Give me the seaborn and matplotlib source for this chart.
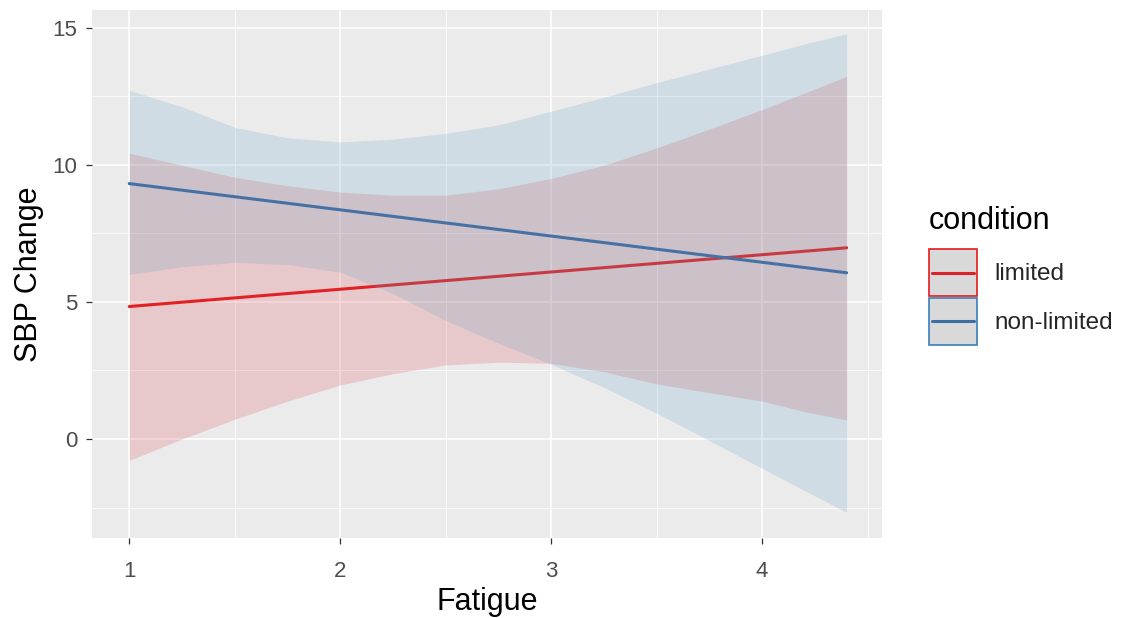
import matplotlib
matplotlib.use("Agg")
import matplotlib.pyplot as plt
import numpy as np
import pandas as pd
import seaborn as sns
from matplotlib.legend_handler import HandlerBase
from matplotlib.lines import Line2D
from matplotlib.patches import Rectangle
from matplotlib.ticker import MultipleLocator

# fitted lines (end points)
line_x = [1.0, 4.4]
limited_fit = [4.83, 6.97]
nonlimited_fit = [9.31, 6.06]

# confidence bands, read at these fatigue values
band_x = [1.0, 1.25, 1.5, 1.75, 2.0, 2.25, 2.5, 2.75, 3.0, 3.25, 3.5, 3.75, 4.0, 4.2, 4.4]
limited_lo = [-0.78, 0.00, 0.72, 1.38, 1.97, 2.38, 2.70, 2.80, 2.76, 2.45, 2.01, 1.69, 1.38, 1.00, 0.69]
limited_hi = [10.42, 9.98, 9.54, 9.23, 9.00, 8.89, 8.89, 9.12, 9.50, 9.98, 10.61, 11.30, 12.01, 12.61, 13.22]
nonlimited_lo = [6.00, 6.28, 6.44, 6.36, 6.08, 5.30, 4.32, 3.49, 2.72, 1.88, 0.94, -0.06, -1.07, -1.88, -2.67]
nonlimited_hi = [12.71, 12.11, 11.36, 10.98, 10.83, 10.93, 11.14, 11.45, 11.95, 12.46, 12.99, 13.49, 13.99, 14.40, 14.77]

conditions = ["limited", "non-limited"]
line_colors = {"limited": "#E41A1C", "non-limited": "#1A70B2"}
key_border = {"limited": "#E41A1C", "non-limited": "#377EB8"}
key_line = {"limited": "#DC2226", "non-limited": "#3A6EA5"}
fill_colors = {"limited": "#DC414B", "non-limited": "#5FA0C3"}


class KeyHandler(HandlerBase):
    """ggplot-like key: grey box with coloured border and a line through the middle."""

    def create_artists(self, legend, orig_handle, xdescent, ydescent, width, height,
                       fontsize, trans):
        border, lc = orig_handle
        rect = Rectangle((-xdescent, -ydescent), width, height, facecolor="#D9D9D9",
                         edgecolor=border, linewidth=1.2, transform=trans)
        y = -ydescent + height / 2
        line = Line2D([-xdescent + 2.5, -xdescent + width - 2.5], [y, y], color=lc,
                      linewidth=2.2, transform=trans)
        return [rect, line]


sns.set_theme(style="darkgrid", rc={
    "axes.facecolor": "#EBEBEB",
    "grid.color": "white",
    "axes.edgecolor": "#EBEBEB",
})
plt.rcParams["font.family"] = ["Liberation Sans", "DejaVu Sans"]

df = pd.DataFrame({
    "Fatigue": line_x * 2,
    "SBP Change": limited_fit + nonlimited_fit,
    "condition": ["limited"] * 2 + ["non-limited"] * 2,
})

fig = plt.figure(figsize=(11.23, 6.18), dpi=100)
ax = fig.add_axes([92 / 1123, 1 - 538 / 618, 790 / 1123, 528 / 618])

# lines first, ribbons drawn over them (as in the original)
sns.lineplot(data=df, x="Fatigue", y="SBP Change", hue="condition",
             palette=line_colors, linewidth=2.2, legend=False, ax=ax, zorder=2)

bands = {
    "limited": (limited_lo, limited_hi),
    "non-limited": (nonlimited_lo, nonlimited_hi),
}
for cond in conditions:
    lo, hi = bands[cond]
    ax.fill_between(band_x, lo, hi, color=fill_colors[cond], alpha=0.2,
                    linewidth=0, zorder=3)

ax.set_xlim(0.823, 4.568)
ax.set_ylim(-3.61, 15.64)
ax.xaxis.set_major_locator(MultipleLocator(1))
ax.xaxis.set_minor_locator(MultipleLocator(0.5))
ax.yaxis.set_major_locator(MultipleLocator(5))
ax.yaxis.set_minor_locator(MultipleLocator(2.5))
ax.grid(which="major", color="white", linewidth=1.15)
ax.grid(which="minor", color="white", linewidth=0.55)
ax.set_axisbelow(True)
for s in ax.spines.values():
    s.set_visible(False)
ax.tick_params(axis="both", which="major", length=4.5, width=0.9, color="#333333",
               labelsize=16, labelcolor="#4D4D4D", bottom=True, left=True)
ax.tick_params(axis="x", which="major", pad=12)
ax.tick_params(axis="y", which="major", pad=6)
ax.tick_params(axis="both", which="minor", length=0)
ax.set_xlabel("Fatigue", fontsize=22, color="black", labelpad=4)
ax.set_ylabel("SBP Change", fontsize=22, color="black", labelpad=6)

handles = [(key_border[c], key_line[c]) for c in conditions]
fig.text(929 / 1123, 1 - 221 / 618, "condition", fontsize=22, color="black",
         ha="left", va="center")
fig.legend(handles, conditions, handler_map={tuple: KeyHandler()},
           loc="upper left", bbox_to_anchor=(929 / 1123, 1 - 249 / 618),
           frameon=False, fontsize=17.5,
           handlelength=1.98, handleheight=2.6, labelspacing=0.08, handletextpad=0.7,
           borderpad=0, borderaxespad=0)

fig.savefig("out.png", dpi=100)
plt.close(fig)
